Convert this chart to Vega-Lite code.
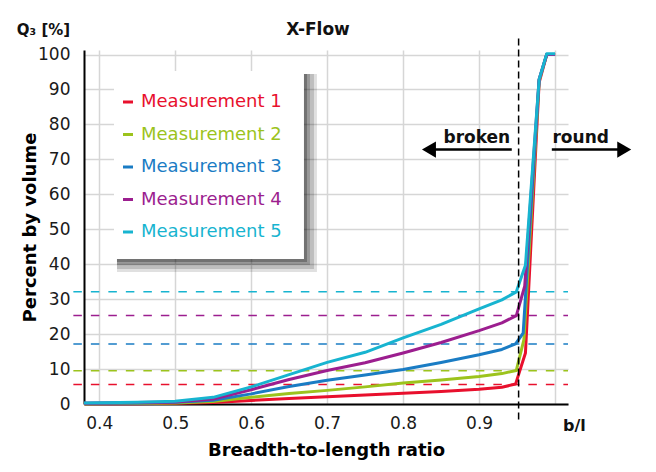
{
  "$schema": "https://vega.github.io/schema/vega-lite/v6.json",
  "width": 484,
  "height": 354,
  "autosize": {"type": "none"},
  "padding": {"left": 84, "top": 50, "right": 88, "bottom": 68},
  "background": "#ffffff",
  "config": {
    "view": {"stroke": null},
    "font": "DejaVu Sans",
    "axis": {
      "grid": true, "ticks": false, "domainColor": "#000000", "domainWidth": 2,
      "gridColor": "#d6d6d6", "gridWidth": 1.5, "labelOverlap": false,
      "labelFont": "DejaVu Sans", "labelFontSize": 17, "labelColor": "#1a1a1a",
      "titleFont": "DejaVu Sans", "titleFontSize": 18, "titleFontWeight": "bold", "titleColor": "#000000"
    },
    "axisX": {"tickCount": 7, "labelPadding": 11, "titlePadding": 10,
              "labelExpr": "datum.value > 0.95 ? '' : format(datum.value, '.1f')"},
    "axisY": {"tickCount": 11, "labelPadding": 14, "titlePadding": -2}
  },
  "datasets": {
    "curves": [
      {"series": "Measurement 1", "ratio": 0.38, "q3": 0.1},
      {"series": "Measurement 1", "ratio": 0.45, "q3": 0.1},
      {"series": "Measurement 1", "ratio": 0.5, "q3": 0.2},
      {"series": "Measurement 1", "ratio": 0.55, "q3": 0.4},
      {"series": "Measurement 1", "ratio": 0.6, "q3": 1.0},
      {"series": "Measurement 1", "ratio": 0.65, "q3": 1.6},
      {"series": "Measurement 1", "ratio": 0.7, "q3": 2.1},
      {"series": "Measurement 1", "ratio": 0.75, "q3": 2.6},
      {"series": "Measurement 1", "ratio": 0.8, "q3": 3.1},
      {"series": "Measurement 1", "ratio": 0.85, "q3": 3.6},
      {"series": "Measurement 1", "ratio": 0.9, "q3": 4.2},
      {"series": "Measurement 1", "ratio": 0.93, "q3": 4.8},
      {"series": "Measurement 1", "ratio": 0.948, "q3": 5.7},
      {"series": "Measurement 1", "ratio": 0.961, "q3": 14.6},
      {"series": "Measurement 1", "ratio": 0.979, "q3": 92.0},
      {"series": "Measurement 1", "ratio": 0.989, "q3": 100},
      {"series": "Measurement 1", "ratio": 1.0, "q3": 100},
      {"series": "Measurement 2", "ratio": 0.38, "q3": 0.1},
      {"series": "Measurement 2", "ratio": 0.45, "q3": 0.2},
      {"series": "Measurement 2", "ratio": 0.5, "q3": 0.3},
      {"series": "Measurement 2", "ratio": 0.55, "q3": 0.7},
      {"series": "Measurement 2", "ratio": 0.6, "q3": 1.9},
      {"series": "Measurement 2", "ratio": 0.65, "q3": 3.0},
      {"series": "Measurement 2", "ratio": 0.7, "q3": 3.9},
      {"series": "Measurement 2", "ratio": 0.75, "q3": 4.9},
      {"series": "Measurement 2", "ratio": 0.8, "q3": 6.0},
      {"series": "Measurement 2", "ratio": 0.85, "q3": 6.9},
      {"series": "Measurement 2", "ratio": 0.9, "q3": 7.9},
      {"series": "Measurement 2", "ratio": 0.93, "q3": 8.7},
      {"series": "Measurement 2", "ratio": 0.949, "q3": 9.6},
      {"series": "Measurement 2", "ratio": 0.959, "q3": 18.4},
      {"series": "Measurement 2", "ratio": 0.979, "q3": 92.5},
      {"series": "Measurement 2", "ratio": 0.989, "q3": 100},
      {"series": "Measurement 2", "ratio": 1.0, "q3": 100},
      {"series": "Measurement 3", "ratio": 0.38, "q3": 0.2},
      {"series": "Measurement 3", "ratio": 0.45, "q3": 0.3},
      {"series": "Measurement 3", "ratio": 0.5, "q3": 0.5},
      {"series": "Measurement 3", "ratio": 0.55, "q3": 1.1},
      {"series": "Measurement 3", "ratio": 0.6, "q3": 2.9},
      {"series": "Measurement 3", "ratio": 0.65, "q3": 5.0},
      {"series": "Measurement 3", "ratio": 0.7, "q3": 6.8},
      {"series": "Measurement 3", "ratio": 0.75, "q3": 8.3},
      {"series": "Measurement 3", "ratio": 0.8, "q3": 9.9},
      {"series": "Measurement 3", "ratio": 0.85, "q3": 11.9},
      {"series": "Measurement 3", "ratio": 0.9, "q3": 14.1},
      {"series": "Measurement 3", "ratio": 0.93, "q3": 15.6},
      {"series": "Measurement 3", "ratio": 0.948, "q3": 17.2},
      {"series": "Measurement 3", "ratio": 0.958, "q3": 20.3},
      {"series": "Measurement 3", "ratio": 0.979, "q3": 92.8},
      {"series": "Measurement 3", "ratio": 0.989, "q3": 100},
      {"series": "Measurement 3", "ratio": 1.0, "q3": 100},
      {"series": "Measurement 4", "ratio": 0.38, "q3": 0.2},
      {"series": "Measurement 4", "ratio": 0.45, "q3": 0.4},
      {"series": "Measurement 4", "ratio": 0.5, "q3": 0.6},
      {"series": "Measurement 4", "ratio": 0.55, "q3": 1.4},
      {"series": "Measurement 4", "ratio": 0.6, "q3": 4.1},
      {"series": "Measurement 4", "ratio": 0.65, "q3": 7.0},
      {"series": "Measurement 4", "ratio": 0.7, "q3": 9.6},
      {"series": "Measurement 4", "ratio": 0.75, "q3": 11.8},
      {"series": "Measurement 4", "ratio": 0.8, "q3": 14.6},
      {"series": "Measurement 4", "ratio": 0.85, "q3": 17.6},
      {"series": "Measurement 4", "ratio": 0.9, "q3": 21.0},
      {"series": "Measurement 4", "ratio": 0.93, "q3": 23.2},
      {"series": "Measurement 4", "ratio": 0.949, "q3": 25.3},
      {"series": "Measurement 4", "ratio": 0.96, "q3": 33.7},
      {"series": "Measurement 4", "ratio": 0.979, "q3": 92.9},
      {"series": "Measurement 4", "ratio": 0.989, "q3": 100},
      {"series": "Measurement 4", "ratio": 1.0, "q3": 100},
      {"series": "Measurement 5", "ratio": 0.38, "q3": 0.3},
      {"series": "Measurement 5", "ratio": 0.45, "q3": 0.5},
      {"series": "Measurement 5", "ratio": 0.5, "q3": 0.8},
      {"series": "Measurement 5", "ratio": 0.55, "q3": 1.9},
      {"series": "Measurement 5", "ratio": 0.6, "q3": 4.9},
      {"series": "Measurement 5", "ratio": 0.65, "q3": 8.4},
      {"series": "Measurement 5", "ratio": 0.7, "q3": 11.9},
      {"series": "Measurement 5", "ratio": 0.75, "q3": 14.8},
      {"series": "Measurement 5", "ratio": 0.8, "q3": 18.9},
      {"series": "Measurement 5", "ratio": 0.85, "q3": 22.8},
      {"series": "Measurement 5", "ratio": 0.9, "q3": 27.2},
      {"series": "Measurement 5", "ratio": 0.93, "q3": 29.8},
      {"series": "Measurement 5", "ratio": 0.949, "q3": 32.1},
      {"series": "Measurement 5", "ratio": 0.961, "q3": 39.7},
      {"series": "Measurement 5", "ratio": 0.979, "q3": 92.9},
      {"series": "Measurement 5", "ratio": 0.989, "q3": 100.2},
      {"series": "Measurement 5", "ratio": 1.0, "q3": 100.2}
    ],
    "levels": [
      {"series": "Measurement 1", "q3": 5.6},
      {"series": "Measurement 2", "q3": 9.5},
      {"series": "Measurement 3", "q3": 17.2},
      {"series": "Measurement 4", "q3": 25.3},
      {"series": "Measurement 5", "q3": 32.1}
    ]
  },
  "layer": [
    {
      "data": {"name": "curves"},
      "mark": {"type": "line", "strokeWidth": 3, "strokeJoin": "round", "opacity": 0},
      "encoding": {
        "x": {
          "field": "ratio", "type": "quantitative", "title": "Breadth-to-length ratio",
          "scale": {"domain": [0.38, 1.017], "nice": false, "zero": false}
        },
        "y": {
          "field": "q3", "type": "quantitative", "title": "Percent by volume",
          "scale": {"domain": [0, 101.3], "nice": false}
        },
        "color": {
          "field": "series", "type": "nominal",
          "scale": {"domain": ["Measurement 1", "Measurement 2", "Measurement 3", "Measurement 4", "Measurement 5"],
                    "range": ["#e8102d", "#9cc31d", "#1a7cc4", "#9c1e8f", "#17b4d0"]},
          "legend": {
            "title": " ", "titleFontSize": 6, "titlePadding": 8,
            "orient": "none", "legendX": 27, "legendY": 21,
            "padding": 8, "zindex": 2,
            "symbolType": "stroke", "symbolSize": 100, "symbolStrokeWidth": 3, "symbolDash": [], "symbolOpacity": 1,
            "labelFont": "DejaVu Sans", "labelFontSize": 18, "labelOffset": 4, "rowPadding": 14.5, "labelLimit": 300,
            "encode": {
              "labels": {"update": {"fill": {"scale": "color", "field": "value"}}}
            }
          }
        }
      }
    },
    {
      "data": {"values": [{}]},
      "mark": {"type": "rect", "color": "#000000", "opacity": 0.12},
      "encoding": {
        "x": {"datum": 0.4234, "type": "quantitative"}, "x2": {"datum": 0.6866},
        "y": {"datum": 94.43, "type": "quantitative"}, "y2": {"datum": 37.77}
      }
    },
    {
      "data": {"values": [{}]},
      "mark": {"type": "rect", "color": "#000000", "opacity": 0.15},
      "encoding": {
        "x": {"datum": 0.4234, "type": "quantitative"}, "x2": {"datum": 0.6827},
        "y": {"datum": 94.43, "type": "quantitative"}, "y2": {"datum": 38.63}
      }
    },
    {
      "data": {"values": [{}]},
      "mark": {"type": "rect", "color": "#000000", "opacity": 0.2},
      "encoding": {
        "x": {"datum": 0.4234, "type": "quantitative"}, "x2": {"datum": 0.6774},
        "y": {"datum": 94.43, "type": "quantitative"}, "y2": {"datum": 39.78}
      }
    },
    {
      "data": {"values": [{}]},
      "mark": {"type": "rect", "color": "#000000", "opacity": 0.25},
      "encoding": {
        "x": {"datum": 0.4234, "type": "quantitative"}, "x2": {"datum": 0.6735},
        "y": {"datum": 94.43, "type": "quantitative"}, "y2": {"datum": 40.63}
      }
    },
    {
      "data": {"values": [{}]},
      "mark": {"type": "rect", "color": "#ffffff", "opacity": 1},
      "encoding": {
        "x": {"datum": 0.4195, "type": "quantitative"}, "x2": {"datum": 0.6695},
        "y": {"datum": 95.29, "type": "quantitative"}, "y2": {"datum": 41.49}
      }
    },
    {
      "data": {"name": "levels"},
      "mark": {"type": "rule", "strokeWidth": 1.5, "strokeDash": [8.5, 9]},
      "encoding": {
        "x": {"datum": 0.366, "type": "quantitative"},
        "x2": {"datum": 1.017},
        "y": {"field": "q3", "type": "quantitative"},
        "color": {"field": "series", "type": "nominal"}
      }
    },
    {
      "data": {"name": "curves"},
      "mark": {"type": "line", "strokeWidth": 3, "strokeJoin": "round"},
      "encoding": {
        "x": {"field": "ratio", "type": "quantitative"},
        "y": {"field": "q3", "type": "quantitative"},
        "color": {"field": "series", "type": "nominal"}
      }
    },
    {
      "data": {"values": [{}]},
      "mark": {"type": "rule", "color": "#000000", "strokeWidth": 1.5, "strokeDash": [7, 4]},
      "encoding": {
        "x": {"datum": 0.952, "type": "quantitative"},
        "y": {"datum": -4.4, "type": "quantitative"},
        "y2": {"datum": 105}
      }
    },
    {
      "data": {"values": [{}]},
      "mark": {"type": "rule", "color": "#000000", "strokeWidth": 2.5},
      "encoding": {
        "x": {"datum": 0.84, "type": "quantitative"},
        "x2": {"datum": 0.943},
        "y": {"datum": 72.8, "type": "quantitative"}
      }
    },
    {
      "data": {"values": [{}]},
      "mark": {"type": "rule", "color": "#000000", "strokeWidth": 2.5},
      "encoding": {
        "x": {"datum": 0.9957, "type": "quantitative"},
        "x2": {"datum": 1.085},
        "y": {"datum": 72.8, "type": "quantitative"}
      }
    },
    {
      "data": {"values": [{}]},
      "mark": {"type": "point", "shape": "triangle-left", "filled": true, "color": "#000000", "size": 260, "opacity": 1},
      "encoding": {
        "x": {"datum": 0.834, "type": "quantitative"},
        "y": {"datum": 72.8, "type": "quantitative"}
      }
    },
    {
      "data": {"values": [{}]},
      "mark": {"type": "point", "shape": "triangle-right", "filled": true, "color": "#000000", "size": 260, "opacity": 1},
      "encoding": {
        "x": {"datum": 1.091, "type": "quantitative"},
        "y": {"datum": 72.8, "type": "quantitative"}
      }
    },
    {
      "data": {"values": [{}]},
      "mark": {"type": "text", "text": "broken", "font": "DejaVu Sans", "fontSize": 17, "fontWeight": "bold", "color": "#111111", "align": "center", "baseline": "alphabetic"},
      "encoding": {
        "x": {"datum": 0.897, "type": "quantitative"},
        "y": {"datum": 74.7, "type": "quantitative"}
      }
    },
    {
      "data": {"values": [{}]},
      "mark": {"type": "text", "text": "round", "font": "DejaVu Sans", "fontSize": 17, "fontWeight": "bold", "color": "#111111", "align": "center", "baseline": "alphabetic"},
      "encoding": {
        "x": {"datum": 1.0337, "type": "quantitative"},
        "y": {"datum": 74.7, "type": "quantitative"}
      }
    },
    {
      "data": {"values": [{}]},
      "mark": {"type": "text", "text": "X-Flow", "font": "DejaVu Sans", "fontSize": 17, "fontWeight": "bold", "color": "#111111", "align": "center", "baseline": "alphabetic"},
      "encoding": {
        "x": {"datum": 0.688, "type": "quantitative"},
        "y": {"datum": 105.7, "type": "quantitative"}
      }
    },
    {
      "data": {"values": [{}]},
      "mark": {"type": "text", "text": "Q₃ [%]", "font": "DejaVu Sans", "fontSize": 15, "fontWeight": "bold", "color": "#111111", "align": "center", "baseline": "alphabetic"},
      "encoding": {
        "x": {"datum": 0.3267, "type": "quantitative"},
        "y": {"datum": 105.7, "type": "quantitative"}
      }
    },
    {
      "data": {"values": [{}]},
      "mark": {"type": "text", "text": "b/l", "font": "DejaVu Sans", "fontSize": 16, "fontWeight": "bold", "color": "#111111", "align": "center", "baseline": "alphabetic"},
      "encoding": {
        "x": {"datum": 1.0254, "type": "quantitative"},
        "y": {"datum": -7.6, "type": "quantitative"}
      }
    }
  ]
}
